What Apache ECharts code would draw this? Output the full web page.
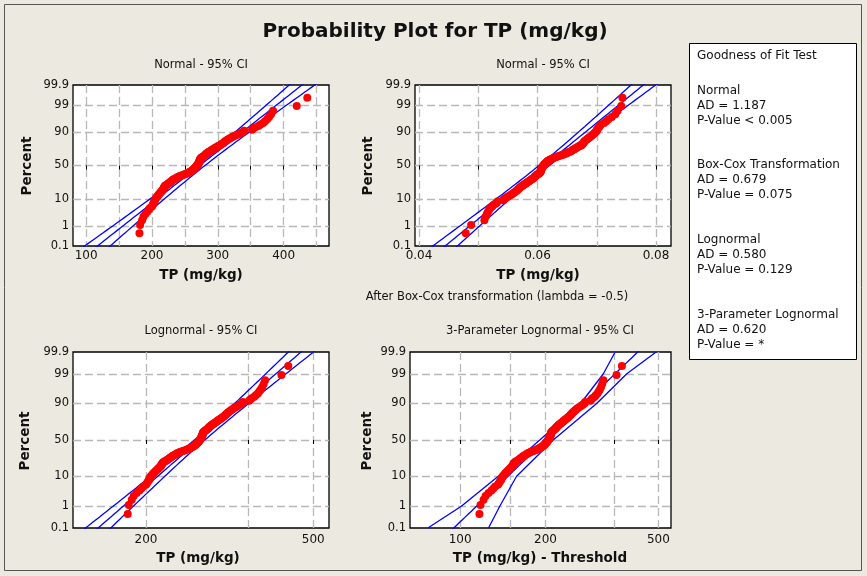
<!DOCTYPE html>
<html>
<head>
<meta charset="utf-8">
<script src="https://cdn.jsdelivr.net/npm/echarts@6/dist/echarts.min.js"></script>
<style>
html,body{margin:0;padding:0;background:#ECE9E0;}
#chart{width:867px;height:576px;}
</style>
</head>
<body>
<div id="chart"></div>
<script>
// Sorted TP sample, mg/kg
const tpValues = [
  181,182,185,187,190,193,195,197,200,201,
  202,203,204,204,205,206,207,208,209,210,
  211,212,213,214,215,216,217,217,218,218,
  219,219,220,221,223,224,225,226,227,228,
  229,230,231,232,233,235,236,237,238,240,
  241,243,245,247,249,251,252,254,255,256,
  258,259,260,261,262,263,263,264,265,265,
  266,267,267,268,268,269,269,270,270,271,
  271,271,272,272,272,272,273,273,273,273,
  274,274,275,276,277,278,279,280,281,282,
  282,283,284,285,286,287,288,290,291,292,
  294,295,296,297,299,300,302,303,305,306,
  308,309,310,311,313,314,316,318,320,322,
  324,327,330,333,336,339,340,352,354,357,
  362,365,369,372,375,378,381,384,420,436
];

// Probability scale
const percentLabels = [0.1, 1, 10, 50, 90, 99, 99.9];
const percentGrid = [1, 10, 50, 90, 99];

// Normal fit (TP)
const normalMean = 272.5, normalSd = 50.3;
// Box-Cox (lambda = -0.5) fit
const boxCoxLambda = -0.5;
const boxCoxMean = 0.06113, boxCoxSd = 0.005416;
// Lognormal fit (median, sigma of ln)
const logMedian = 268.2, logSigma = 0.1798;
// 3-parameter lognormal
const threshold = 64;
const logMedian3 = 200.5, logSigma3 = 0.2417;
const band3Percent = [0.1, 1, 10, 50, 90, 99, 99.9];
const band3Lower = [77, 101, 136, 191, 266, 320, 352];
const band3Upper = [126, 138, 158, 213, 303, 387, 491];

// Axis ticks and ranges
const xTicks1 = [100,150,200,250,300,350,400,450];
const xLabels1 = [100,200,300,400];
const xRange1 = [80, 469];
const xTicks2 = [0.04,0.05,0.06,0.07,0.08];
const xLabels2 = [0.04,0.06,0.08];
const xRange2 = [0.03932, 0.08253];
const xTicks3 = [200,350,500];
const xLabels3 = [200,500];
const xRange3 = [134.1, 545];
const xTicks4 = [100,150,200,350,500];
const xLabels4 = [100,200,500];
const xRange4 = [66.6, 554];

// Inverse standard normal CDF (Acklam)
function normInv(p) {
  const a=[-3.969683028665376e+01,2.209460984245205e+02,-2.759285104469687e+02,1.383577518672690e+02,-3.066479806614716e+01,2.506628277459239e+00];
  const b=[-5.447609879822406e+01,1.615858368580409e+02,-1.556989798598866e+02,6.680131188771972e+01,-1.328068155288572e+01];
  const c=[-7.784894002430293e-03,-3.223964580411365e-01,-2.400758277161838e+00,-2.549732539343734e+00,4.374664141464968e+00,2.938163982698783e+00];
  const d=[7.784695709041462e-03,3.224671290700398e-01,2.445134137142996e+00,3.754408661907416e+00];
  const pl = 0.02425;
  let q, r;
  if (p < pl) {
    q = Math.sqrt(-2*Math.log(p));
    return (((((c[0]*q+c[1])*q+c[2])*q+c[3])*q+c[4])*q+c[5])/((((d[0]*q+d[1])*q+d[2])*q+d[3])*q+1);
  }
  if (p > 1 - pl) {
    return -normInv(1 - p);
  }
  q = p - 0.5; r = q*q;
  return (((((a[0]*r+a[1])*r+a[2])*r+a[3])*r+a[4])*r+a[5])*q/(((((b[0]*r+b[1])*r+b[2])*r+b[3])*r+b[4])*r+1);
}
const zOf = pct => normInv(pct / 100);
const zMin = zOf(0.1) - 1e-9, zMax = zOf(99.9) + 1e-9;
const log10 = Math.log10;

const n = tpValues.length;
const zRank = tpValues.map((_, i) => normInv((i + 1 - 0.3) / (n + 0.4)));

const pts1 = tpValues.map((v, i) => [v, zRank[i]]);
const bc = tpValues.map(v => Math.pow(v, boxCoxLambda)).sort((a, b) => a - b);
const pts2 = bc.map((v, i) => [v, zRank[i]]);
const pts3 = tpValues.map((v, i) => [log10(v), zRank[i]]);
const pts4 = tpValues.map((v, i) => [log10(v - threshold), zRank[i]]);

// Fitted line with 95% CI for a normal-scale fit
const zGrid = [];
for (let k = -64; k <= 64; k++) zGrid.push(k * 0.05);
function fitLines(mu, sd) {
  const mid = [], lo = [], hi = [];
  zGrid.forEach(z => {
    const u = mu + sd * z;
    const h = 1.96 * sd * Math.sqrt((1 + z * z / 2) / n);
    mid.push([u, z]); lo.push([u - h, z]); hi.push([u + h, z]);
  });
  return [mid, lo, hi];
}
const fit1 = fitLines(normalMean, normalSd);
const fit2 = fitLines(boxCoxMean, boxCoxSd);
const fit3 = fitLines(log10(logMedian), logSigma / Math.LN10);
const mid4 = zGrid.map(z => [log10(logMedian3) + z * logSigma3 / Math.LN10, z]);
const lo4 = band3Percent.map((p, i) => [log10(band3Lower[i]), zOf(p)]);
const hi4 = band3Percent.map((p, i) => [log10(band3Upper[i]), zOf(p)]);

const FONT = 'DejaVu Sans';
const gridLineStyle = { color: '#b8b8b8', type: [8, 4], width: 1.3 };

function makeX(idx, range, ticks, labels, fmt, isLog, margin) {
  const tr = v => isLog ? log10(v) : v;
  return {
    gridIndex: idx, type: 'value',
    min: tr(range[0]), max: tr(range[1]),
    axisLine: { show: false },
    axisTick: { show: true, customValues: ticks.map(tr), length: 4, lineStyle: { color: '#000', width: 1 } },
    axisLabel: { customValues: labels.map(tr), formatter: fmt, fontFamily: FONT, fontSize: 12, color: '#111', margin: margin },
    splitLine: { show: true, lineStyle: gridLineStyle }
  };
}
function makeY(idx) {
  return {
    gridIndex: idx, type: 'value', min: zMin, max: zMax,
    axisLine: { show: false },
    axisTick: { show: false, customValues: percentGrid.map(zOf) },
    axisLabel: {
      customValues: percentLabels.map(zOf), fontFamily: FONT, fontSize: 11.5, color: '#111', margin: 4,
      formatter: v => {
        let best = percentLabels[0];
        percentLabels.forEach(p => { if (Math.abs(zOf(p) - v) < Math.abs(zOf(best) - v)) best = p; });
        return String(best);
      }
    },
    splitLine: { show: true, lineStyle: gridLineStyle }
  };
}
const gridStyle = { show: true, backgroundColor: '#ffffff', borderColor: '#000', borderWidth: 1.3 };

function lineSeries(idx, data) {
  return { type: 'line', xAxisIndex: idx, yAxisIndex: idx, data: data, showSymbol: false, symbol: 'none',
    lineStyle: { color: '#0000ff', width: 1.3 }, silent: true, z: 2, clip: true, animation: false };
}
function dotSeries(idx, data) {
  return { type: 'scatter', xAxisIndex: idx, yAxisIndex: idx, data: data, symbolSize: 8,
    itemStyle: { color: '#ff0000', opacity: 1 }, z: 3, clip: true, animation: false };
}

function txt(x, y, s, opt) {
  return Object.assign({ type: 'text', x: x, y: y, silent: true,
    style: Object.assign({ text: s, fill: '#111', font: '12px "' + FONT + '"', textAlign: 'center', textVerticalAlign: 'middle' }, opt || {}) });
}
const boldName = 'bold 13.5px "DejaVu Sans"';
const subFont = '11.5px "' + FONT + '"';
const boxLines = [
  ['Goodness of Fit Test', 56],
  ['Normal', 91], ['AD = 1.187', 106], ['P-Value < 0.005', 121],
  ['Box-Cox Transformation', 165], ['AD = 0.679', 180], ['P-Value = 0.075', 195],
  ['Lognormal', 240], ['AD = 0.580', 255], ['P-Value = 0.129', 270],
  ['3-Parameter Lognormal', 315], ['AD = 0.620', 330], ['P-Value = *', 345]
];

const graphics = [
  { type: 'rect', shape: { x: 4.5, y: 4.5, width: 857, height: 566 }, style: { fill: 'none', stroke: '#555', lineWidth: 1 }, silent: true },
  txt(435, 32, 'Probability Plot for TP (mg/kg)', { font: 'bold 20px "DejaVu Sans"' }),
  txt(201, 65, 'Normal - 95% CI', { font: subFont }),
  txt(543, 65, 'Normal - 95% CI', { font: subFont }),
  txt(201, 331, 'Lognormal - 95% CI', { font: subFont }),
  txt(540, 331, '3-Parameter Lognormal - 95% CI', { font: subFont }),
  txt(497, 297, 'After Box-Cox transformation (lambda = -0.5)', { font: subFont }),
  txt(201, 275, 'TP (mg/kg)', { font: boldName }),
  txt(538, 275, 'TP (mg/kg)', { font: boldName }),
  txt(198, 558, 'TP (mg/kg)', { font: boldName }),
  txt(540, 558, 'TP (mg/kg) - Threshold', { font: boldName }),
  Object.assign(txt(27, 166, 'Percent', { font: boldName }), { rotation: Math.PI / 2 }),
  Object.assign(txt(368, 166, 'Percent', { font: boldName }), { rotation: Math.PI / 2 }),
  Object.assign(txt(25, 441, 'Percent', { font: boldName }), { rotation: Math.PI / 2 }),
  Object.assign(txt(367, 441, 'Percent', { font: boldName }), { rotation: Math.PI / 2 }),
  { type: 'rect', shape: { x: 689.5, y: 43.5, width: 167, height: 316 }, style: { fill: '#fff', stroke: '#000', lineWidth: 1 }, silent: true }
].concat(boxLines.map(l => txt(697, l[1], l[0], { textAlign: 'left', font: '12px "' + FONT + '"' })));

const chart = echarts.init(document.getElementById('chart'), null, { renderer: 'canvas' });
chart.setOption({
  backgroundColor: '#ECE9E0',
  animation: false,
  grid: [
    Object.assign({ left: 73, top: 85, width: 256, height: 161 }, gridStyle),
    Object.assign({ left: 415, top: 85, width: 256, height: 161 }, gridStyle),
    Object.assign({ left: 73, top: 352, width: 256, height: 176 }, gridStyle),
    Object.assign({ left: 410, top: 352, width: 261, height: 176 }, gridStyle)
  ],
  xAxis: [
    makeX(0, xRange1, xTicks1, xLabels1, v => String(Math.round(v)), false, 4),
    makeX(1, xRange2, xTicks2, xLabels2, v => v.toFixed(2), false, 4),
    makeX(2, xRange3, xTicks3, xLabels3, v => String(Math.round(Math.pow(10, v))), true, 6),
    makeX(3, xRange4, xTicks4, xLabels4, v => String(Math.round(Math.pow(10, v))), true, 6)
  ],
  yAxis: [makeY(0), makeY(1), makeY(2), makeY(3)],
  series: [
    lineSeries(0, fit1[0]), lineSeries(0, fit1[1]), lineSeries(0, fit1[2]), dotSeries(0, pts1),
    lineSeries(1, fit2[0]), lineSeries(1, fit2[1]), lineSeries(1, fit2[2]), dotSeries(1, pts2),
    lineSeries(2, fit3[0]), lineSeries(2, fit3[1]), lineSeries(2, fit3[2]), dotSeries(2, pts3),
    lineSeries(3, mid4), lineSeries(3, lo4), lineSeries(3, hi4), dotSeries(3, pts4)
  ],
  graphic: graphics
});
</script>
</body>
</html>
